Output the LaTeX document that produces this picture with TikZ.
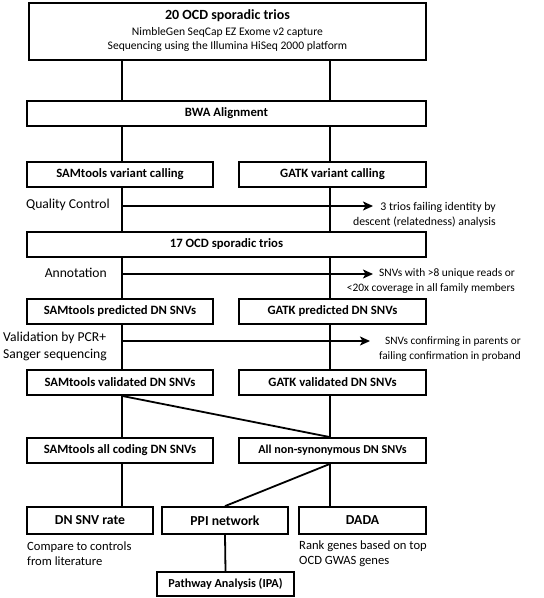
\documentclass[tikz,border=0pt]{standalone}
\usepackage{fontspec}
\setmainfont{Carlito}
\usetikzlibrary{arrows.meta}
\begin{document}
\begin{tikzpicture}[x=1pt,y=-1pt,
  box/.style={draw, line width=1.8pt, fill=white, inner sep=0pt, minimum height=25pt, align=center, font=\fontsize{12.7}{15}\selectfont\bfseries},
  conn/.style={line width=1.8pt},
  arr/.style={line width=1.6pt, -{Stealth[length=10pt,width=9pt,inset=2.5pt]}},
  side/.style={font=\fontsize{13.6}{17}\selectfont, inner sep=0pt},
  note/.style={font=\fontsize{11.8}{15}\selectfont, inner sep=0pt, align=right},
  low/.style={font=\fontsize{12.6}{15.5}\selectfont, inner sep=0pt, align=left}]
\useasboundingbox (0,0) rectangle (544,598);

\coordinate (cL) at (122,0);
\coordinate (cR) at (330,0);

% boxes
\node[box, line width=2.4pt, minimum width=397pt, minimum height=57pt] (top) at (227.5,31.5) {};
\node[font=\fontsize{14}{16}\selectfont\bfseries, inner sep=0pt] (t1) at (227.5,15.5) {20 OCD sporadic trios};
\node[font=\fontsize{11.6}{14}\selectfont, inner sep=0pt] (t2) at (227.5,32) {NimbleGen SeqCap EZ Exome v2 capture};
\node[font=\fontsize{11.6}{14}\selectfont, inner sep=0pt] (t3) at (227.5,46.5) {Sequencing using the Illumina HiSeq 2000 platform};

\node[box, minimum width=399pt] (bwa) at (226.5,113.5) {BWA Alignment};
\node[box, minimum width=186pt] (samvar) at (120,174.5) {SAMtools variant calling};
\node[box, minimum width=187pt] (gatkvar) at (332.5,174.5) {GATK variant calling};
\node[box, minimum width=399pt] (ocd) at (226.5,244.5) {17 OCD sporadic trios};
\node[box, minimum width=186pt] (sampred) at (120,311.5) {SAMtools predicted DN SNVs};
\node[box, minimum width=187pt] (gatkpred) at (332.5,311.5) {GATK predicted DN SNVs};
\node[box, minimum width=186pt] (samval) at (120,382.5) {SAMtools validated DN SNVs};
\node[box, minimum width=187pt] (gatkval) at (332.5,382.5) {GATK validated DN SNVs};
\node[box, minimum width=186pt] (samcode) at (120,450.5) {SAMtools all coding DN SNVs};
\node[box, minimum width=187pt, font=\fontsize{12.1}{15}\selectfont\bfseries] (allns) at (332.5,450.5) {All non-synonymous DN SNVs};
\node[box, minimum width=126pt, minimum height=27pt, font=\fontsize{13.7}{16}\selectfont\bfseries] (rate) at (90,520.5) {DN SNV rate};
\node[box, minimum width=126pt, minimum height=27pt, font=\fontsize{13.7}{16}\selectfont\bfseries] (ppi) at (225,520.5) {PPI network};
\node[box, minimum width=127pt, minimum height=27pt, font=\fontsize{13.7}{16}\selectfont\bfseries] (dada) at (362.5,520.5) {DADA};
\node[box, minimum width=137pt, minimum height=24pt, font=\fontsize{12.2}{15}\selectfont\bfseries] (ipa) at (225.5,584) {Pathway Analysis (IPA)};

% connectors
\draw[conn] (top.south -| cL) -- (bwa.north -| cL);
\draw[conn] (top.south -| cR) -- (bwa.north -| cR);
\draw[conn] (bwa.south -| cL) -- (samvar.north -| cL);
\draw[conn] (bwa.south -| cR) -- (gatkvar.north -| cR);
\draw[conn] (samvar.south -| cL) -- (ocd.north -| cL);
\draw[conn] (gatkvar.south -| cR) -- (ocd.north -| cR);
\draw[conn] (ocd.south -| cL) -- (sampred.north -| cL);
\draw[conn] (ocd.south -| cR) -- (gatkpred.north -| cR);
\draw[conn] (sampred.south -| cL) -- (samval.north -| cL);
\draw[conn] (gatkpred.south -| cR) -- (gatkval.north -| cR);
\draw[conn] (samval.south -| cL) -- (samcode.north -| cL);
\draw[conn] (samval.south -| cL) -- (allns.north -| cR);
\draw[conn] (gatkval.south -| cR) -- (allns.north -| cR);
\draw[conn] (samcode.south -| cL) -- (rate.north -| cL);
\draw[conn] (allns.south -| cR) -- (ppi.north);
\draw[conn] (allns.south -| cR) -- (dada.north -| cR);
\draw[conn] (ppi.south) -- (ipa.north);

% side labels and arrows
\node[side, anchor=east] (qc) at (110,205) {Quality Control};
\coordinate (qcS) at (122,206);
\coordinate (qcE) at (373,206);
\draw[arr] (qcS) -- (qcE);
\node[note, anchor=east] (qcn) at (496,215) {3 trios failing identity by\\descent (relatedness) analysis};

\node[side, anchor=east] (ann) at (107,273) {Annotation};
\coordinate (anS) at (122,274);
\coordinate (anE) at (373,274);
\draw[arr] (anS) -- (anE);
\node[note, anchor=east, font=\fontsize{11.4}{15}\selectfont] (ann2) at (515,281.5) {SNVs with >8 unique reads or\\<20x coverage in all family members};

\node[side, anchor=west, align=left] (val) at (3,346.5) {Validation by PCR+\\Sanger sequencing};
\coordinate (vaS) at (122,341);
\coordinate (vaE) at (370,341);
\draw[arr] (vaS) -- (vaE);
\node[note, anchor=east, font=\fontsize{11.3}{15.5}\selectfont] (van) at (521,349) {SNVs confirming in parents or\\failing confirmation in proband};

% bottom notes
\node[low, anchor=west] (n1) at (27,553.5) {Compare to controls\\from literature};
\node[low, anchor=west] (n2) at (299,553.5) {Rank genes based on top\\OCD GWAS genes};
\end{tikzpicture}
\end{document}
